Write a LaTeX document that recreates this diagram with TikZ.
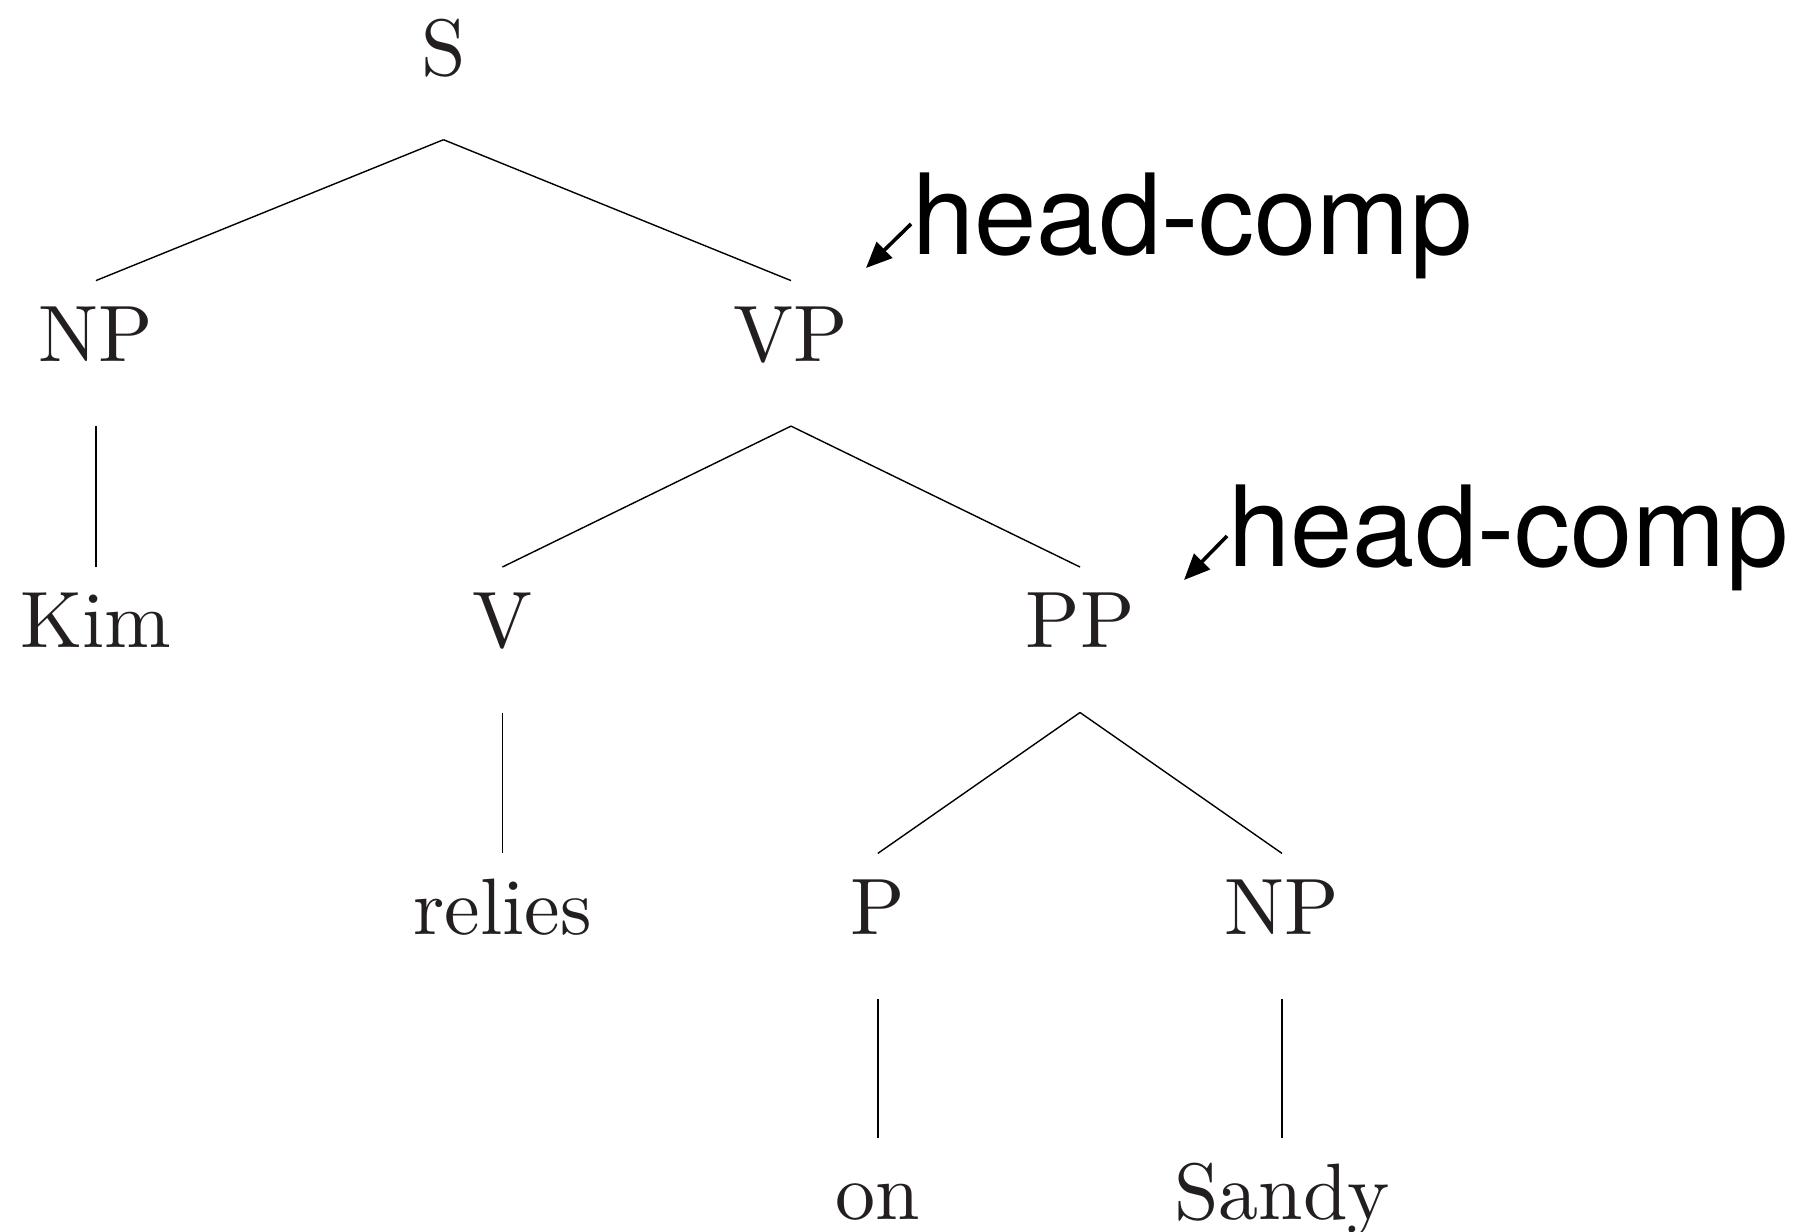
\documentclass[tikz,border=0pt]{standalone}
\usepackage{fontspec}
\newfontfamily\labelfont{TeX Gyre Heros}
\newfontfamily\catfont{lmroman10-regular.otf}
\usetikzlibrary{arrows.meta}
\definecolor{ink}{HTML}{231F20}
\tikzset{
  cat/.style={anchor=base, inner sep=0pt, text=ink, font=\catfont\fontsize{80}{96}\selectfont},
  branch/.style={line width=1.4pt, black},
  rulelabel/.style={anchor=base west, inner sep=0pt, font=\labelfont\fontsize{112}{134}\selectfont},
  rulearrow/.style={line width=3.6pt, -{Triangle[length=26pt,width=22pt]}}
}
\newcommand{\edge}[2]{\draw[branch] ([yshift=-64.7pt]#1.base) -- ([yshift=80.8pt]#2.base);}
\begin{document}
\begin{tikzpicture}[x=1pt,y=-1pt]
  \useasboundingbox (0,0) rectangle (1811,1231);
  % categories and words
  \node[cat] (s)     at (443.5,75)    {S};
  \node[cat] (np)    at (95.9,361.4)  {NP};
  \node[cat] (vp)    at (791,361.4)   {VP};
  \node[cat] (kim)   at (95.9,647.8)  {Kim};
  \node[cat] (v)     at (502.4,647.8) {V};
  \node[cat] (pp)    at (1080,647.8)  {PP};
  \node[cat] (relies) at (502.4,934.2) {relies};
  \node[cat] (p)     at (877.8,934.2) {P};
  \node[cat] (np2)   at (1282,934.2)  {NP};
  \node[cat] (on)    at (877.8,1219)  {on};
  \node[cat] (sandy) at (1282,1219)   {Sandy};
  % branches
  \edge{s}{np}
  \edge{s}{vp}
  \edge{np}{kim}
  \edge{vp}{v}
  \edge{vp}{pp}
  \edge{v}{relies}
  \edge{pp}{p}
  \edge{pp}{np2}
  \edge{p}{on}
  \edge{np2}{sandy}
  % rule annotations
  \node[rulelabel] (hc1) at (912,254) {head-comp};
  \node[rulelabel] (hc2) at (1228,566) {head-comp};
  \coordinate (t1) at (866,268);
  \coordinate (t2) at (1184,580);
  \draw[rulearrow] ([xshift=-1pt,yshift=30pt]hc1.base west) -- (t1);
  \draw[rulearrow] ([xshift=-1pt,yshift=30pt]hc2.base west) -- (t2);
\end{tikzpicture}
\end{document}
